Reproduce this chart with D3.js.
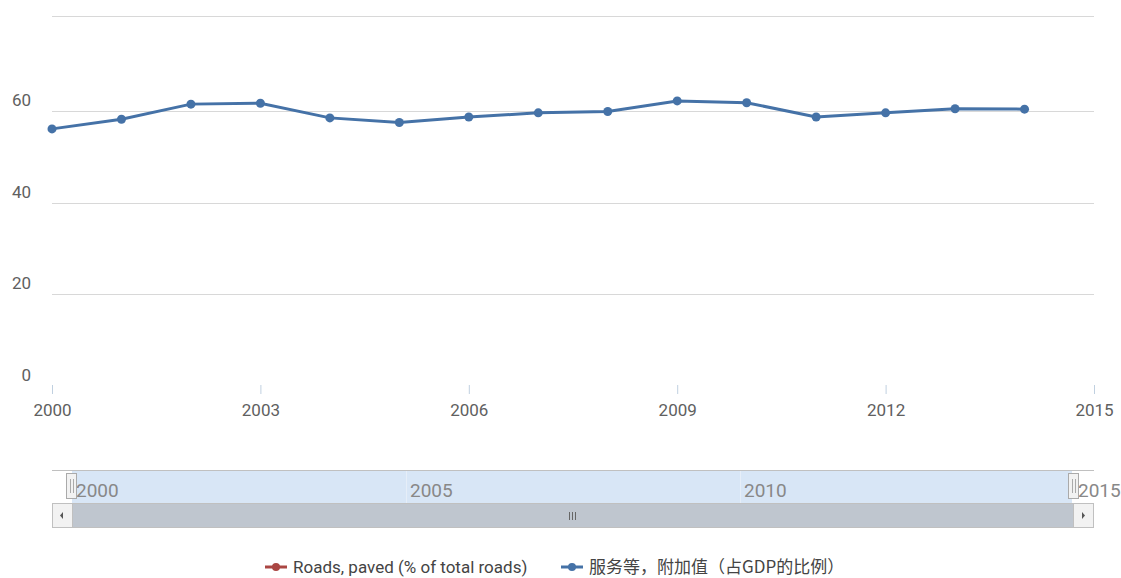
<!DOCTYPE html>
<html>
<head>
<meta charset="utf-8">
<script src="https://cdn.jsdelivr.net/npm/d3@7"></script>
<style>
  body { margin: 0; background: #fff; }
  svg text { font-family: "Liberation Sans Narrow", "Roboto", "Liberation Sans", sans-serif; }
</style>
</head>
<body>
<svg id="drawing_region"></svg>
<script>
const years = [2000, 2001, 2002, 2003, 2004, 2005, 2006, 2007, 2008, 2009, 2010, 2011, 2012, 2013, 2014];
const services = [56.1, 58.2, 61.5, 61.7, 58.5, 57.5, 58.7, 59.6, 59.9, 62.2, 61.8, 58.7, 59.6, 60.5, 60.4];
const yTicks = [0, 20, 40, 60];
const xTicks = [2000, 2003, 2006, 2009, 2012, 2015];
const navTicks = [2000, 2005, 2010, 2015];
const seriesNames = ['Roads, paved (% of total roads)', '服务等，附加值（占GDP的比例）'];
const seriesColors = ['#aa4643', '#4572a7'];

const W = 1121, H = 578;
const svg = d3.select('#drawing_region').attr('width', W).attr('height', H);

const x = d3.scaleLinear().domain([2000, 2015]).range([52, 1094]);
const y = d3.scaleLinear().domain([0, 60]).range([386, 111]);

// grid
svg.append('line').attr('x1', 52).attr('x2', 1094).attr('y1', 16.5).attr('y2', 16.5)
  .attr('stroke', '#d8d8d8');
svg.append('g').selectAll('line').data(yTicks.filter(d => d > 0)).enter().append('line')
  .attr('x1', 52).attr('x2', 1094)
  .attr('y1', d => Math.round(y(d)) + 0.5).attr('y2', d => Math.round(y(d)) + 0.5)
  .attr('stroke', '#d8d8d8');

svg.append('g').selectAll('text').data(yTicks).enter().append('text')
  .attr('x', 31).attr('y', d => y(d) - 5)
  .attr('text-anchor', 'end')
  .attr('font-size', 17).attr('fill', '#606060')
  .text(d => d);

// x axis
const xAxis = d3.axisBottom(x).tickValues(xTicks).tickFormat(d3.format('d')).tickSize(9).tickPadding(10);
const gx = svg.append('g').attr('transform', 'translate(0,385)').call(xAxis);
gx.select('.domain').remove();
gx.selectAll('.tick line').attr('stroke', '#c0d0e0');
gx.selectAll('.tick text').attr('font-size', 17).attr('fill', '#606060');

// series
const pts = years.map((yr, i) => [yr, services[i]]);
const line = d3.line().x(d => x(d[0])).y(d => y(d[1]));
svg.append('path').datum(pts)
  .attr('d', line).attr('fill', 'none')
  .attr('stroke', seriesColors[1]).attr('stroke-width', 3);
svg.append('g').selectAll('circle').data(pts).enter().append('circle')
  .attr('cx', d => x(d[0])).attr('cy', d => y(d[1])).attr('r', 4.5)
  .attr('fill', seriesColors[1]);

// navigator
const nx = d3.scaleLinear().domain([2000, 2015]).range([72, 1074]);
const nav = svg.append('g');
nav.append('line').attr('x1', 52).attr('x2', 1094).attr('y1', 470.5).attr('y2', 470.5).attr('stroke', '#c0c0c0');
nav.append('rect').attr('x', 72).attr('y', 471).attr('width', 1000).attr('height', 32)
  .attr('fill', '#d8e6f6');
nav.selectAll('line.ng').data(navTicks.slice(1, 3)).enter().append('line')
  .attr('class', 'ng')
  .attr('x1', d => Math.round(nx(d)) + 0.5).attr('x2', d => Math.round(nx(d)) + 0.5)
  .attr('y1', 471).attr('y2', 503).attr('stroke', '#e6eef8');
nav.selectAll('text').data(navTicks).enter().append('text')
  .attr('x', d => nx(d) + 4).attr('y', 497)
  .attr('font-size', 19).attr('fill', '#888')
  .text(d => d);

// scrollbar
nav.append('rect').attr('x', 52.5).attr('y', 503.5).attr('width', 1041).attr('height', 24)
  .attr('fill', '#f2f2f2').attr('stroke', '#c0c0c0');
nav.append('rect').attr('x', 72).attr('y', 504).attr('width', 1002).attr('height', 23)
  .attr('fill', '#bfc6cf');
nav.append('line').attr('x1', 72.5).attr('x2', 72.5).attr('y1', 504).attr('y2', 527).attr('stroke', '#c0c0c0');
nav.append('line').attr('x1', 1073.5).attr('x2', 1073.5).attr('y1', 504).attr('y2', 527).attr('stroke', '#c0c0c0');
nav.append('path').attr('d', 'M63,512 L63,519 L60,515.5 Z').attr('fill', '#555');
nav.append('path').attr('d', 'M1082,512 L1082,519 L1085,515.5 Z').attr('fill', '#555');
[569, 572, 575].forEach(px => {
  nav.append('line').attr('x1', px + 0.5).attr('x2', px + 0.5).attr('y1', 512).attr('y2', 520).attr('stroke', '#666');
});

// handles
[nx(2000), nx(2015)].forEach(hx => {
  const h = nav.append('g').attr('transform', `translate(${Math.round(hx)},0)`);
  h.append('rect').attr('x', -5.5).attr('y', 473.5).attr('width', 10).attr('height', 25)
    .attr('fill', '#f2f2f2').attr('stroke', '#aaa');
  h.append('line').attr('x1', -1.5).attr('x2', -1.5).attr('y1', 479).attr('y2', 493).attr('stroke', '#aaa');
  h.append('line').attr('x1', 1.5).attr('x2', 1.5).attr('y1', 479).attr('y2', 493).attr('stroke', '#aaa');
});

// legend
const legendX = [265, 561];
const lg = svg.append('g').selectAll('g').data(seriesNames).enter().append('g')
  .attr('transform', (d, i) => `translate(${legendX[i]},567)`);
lg.append('line').attr('x1', 0).attr('x2', 22).attr('y1', 0).attr('y2', 0)
  .attr('stroke', (d, i) => seriesColors[i]).attr('stroke-width', 3);
lg.append('circle').attr('cx', 11).attr('cy', 0).attr('r', 4)
  .attr('fill', (d, i) => seriesColors[i]);
lg.append('text').attr('x', 28).attr('y', 6)
  .attr('font-size', 17).attr('fill', '#444')
  .style('font-family', (d, i) => i === 1 ? '"Noto Sans CJK SC", sans-serif' : null)
  .text(d => d);
</script>
</body>
</html>
